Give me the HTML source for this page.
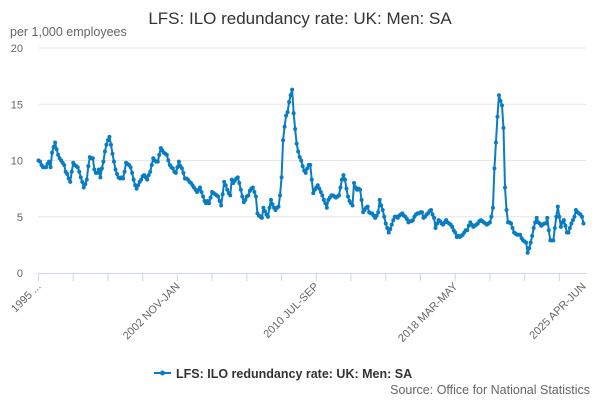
<!DOCTYPE html>
<html><head><meta charset="utf-8">
<style>
html,body{margin:0;padding:0;background:#fff;}
svg{display:block;font-family:"Liberation Sans",sans-serif;}
</style></head>
<body>
<svg id="chart" width="600" height="400" viewBox="0 0 600 400">
<text x="300" y="24" text-anchor="middle" font-size="17" fill="#333">LFS: ILO redundancy rate: UK: Men: SA</text>
<text x="10" y="36" font-size="12.5" fill="#666">per 1,000 employees</text>
<g id="grid"></g><g id="xaxis"></g><g id="series"></g>
<g>
<line x1="154" y1="373" x2="171" y2="373" stroke="#0a7cc1" stroke-width="2"/>
<circle cx="162.5" cy="373" r="2.5" fill="#0a7cc1"/>
<text x="176" y="378" font-size="12.5" font-weight="bold" fill="#333">LFS: ILO redundancy rate: UK: Men: SA</text>
</g>
<text x="590" y="394" text-anchor="end" font-size="12.5" fill="#666">Source: Office for National Statistics</text>
</svg>
<script>
const yTicks = [0, 5, 10, 15, 20];
const xLabelIdx = [0, 92, 184, 276, 361];
const xLabels = ["1995 ...", "2002 NOV-JAN", "2010 JUL-SEP", "2018 MAR-MAY", "2025 APR-JUN"];
const values = [
10.0,9.9,9.6,9.4,9.4,9.4,9.7,9.9,9.4,10.7,11.2,11.6,11.0,10.5,10.2,10.0,9.8,9.6,9.0,8.8,
8.4,8.1,9.0,9.8,9.6,9.5,9.4,9.0,8.5,8.1,7.6,7.9,8.3,9.5,10.3,10.2,10.2,9.2,8.9,8.9,
9.2,8.5,9.3,9.9,10.8,11.4,11.8,12.1,11.4,10.6,9.9,9.2,8.8,8.5,8.4,8.5,8.4,9.0,9.8,9.7,
9.6,9.4,8.9,8.3,7.8,7.5,7.8,8.1,8.3,8.6,8.7,8.5,8.3,8.7,9.0,9.6,10.2,10.0,9.9,9.9,
10.5,11.1,10.9,10.7,10.6,10.5,10.0,9.6,9.4,9.3,9.0,8.9,9.4,9.9,9.5,9.3,8.9,8.4,8.4,8.3,
8.1,8.0,7.8,7.6,7.4,7.2,7.4,7.6,7.2,6.8,6.4,6.2,6.4,6.2,6.7,7.2,7.1,7.0,6.9,6.8,
6.4,6.0,7.0,8.1,7.8,7.4,7.1,6.9,8.3,8.0,8.2,8.4,8.5,8.0,7.4,6.8,6.3,6.5,6.8,6.9,
7.3,7.5,7.6,7.2,6.8,5.3,5.1,5.0,4.9,5.8,5.5,5.2,5.0,5.8,6.5,6.1,5.8,5.6,5.8,5.9,
6.9,8.5,11.8,13.0,14.0,14.3,15.2,15.8,16.3,14.2,12.8,11.5,10.8,10.3,10.0,9.5,9.1,8.9,9.3,9.6,
9.6,8.3,7.1,7.4,7.6,7.8,7.5,7.2,6.9,6.5,6.2,5.8,6.5,6.7,6.9,6.9,6.8,6.7,6.8,6.9,
7.6,8.3,8.7,8.3,7.5,6.8,6.4,6.2,6.0,8.0,7.6,7.4,7.5,7.4,6.5,5.4,5.6,5.8,5.9,5.4,
5.3,5.3,5.1,4.9,5.1,5.4,6.5,6.0,5.6,5.0,4.4,4.0,3.6,3.9,4.3,4.7,5.0,5.0,4.9,5.1,
5.2,5.3,5.1,5.0,4.8,4.5,4.6,4.6,4.7,5.0,5.2,5.3,5.3,5.4,5.4,4.9,5.0,5.2,5.3,5.5,
5.6,5.2,4.9,4.0,4.4,4.7,4.6,4.4,4.3,4.5,4.7,4.5,4.4,4.3,4.1,3.8,3.6,3.2,3.3,3.2,
3.3,3.4,3.6,3.8,3.8,4.2,4.5,4.3,4.1,4.2,4.3,4.4,4.6,4.7,4.6,4.5,4.4,4.3,4.4,4.5,
5.0,5.8,9.3,11.6,13.9,15.8,15.3,14.9,12.9,7.6,5.6,4.5,4.5,4.4,4.0,3.6,3.5,3.4,3.4,3.4,
3.1,2.9,2.8,2.7,1.8,2.2,2.7,3.3,4.0,4.5,4.9,4.5,4.4,4.2,4.3,4.4,4.4,4.9,3.8,2.9,
2.9,2.9,4.0,5.0,5.9,5.0,4.1,4.5,4.7,4.2,3.6,3.6,4.0,4.4,4.7,5.0,5.6,5.4,5.3,5.2,
5.0,4.4
];
const NS="http://www.w3.org/2000/svg";
const X0=38.5, X1=583.5, Y0=273, Y1=48, YMAX=20;
const xs=i=>X0+(X1-X0)*i/(values.length-1);
const ys=v=>Y0-(Y0-Y1)*v/YMAX;
function mk(tag,attrs,parent){const e=document.createElementNS(NS,tag);for(const k in attrs)e.setAttribute(k,attrs[k]);parent.appendChild(e);return e;}
const grid=document.getElementById('grid');
yTicks.forEach(t=>{
  if(t>0){const l=mk('line',{x1:X0,x2:586,y1:ys(t),y2:ys(t),stroke:'#e6e6e6','stroke-width':1},grid);
  
  }
  const tx=mk('text',{x:23,y:ys(t)+4,'text-anchor':'end','font-size':11,fill:'#666'},grid);
  tx.textContent=t;
  
  
});
const xa=document.getElementById('xaxis');
const ax=mk('line',{x1:X0,x2:586,y1:Y0+0.5,y2:Y0+0.5,stroke:'#ccd6eb','stroke-width':1},xa);


for(let i=0;i<values.length;i+=23){
  const tk=mk('line',{x1:xs(i),x2:xs(i),y1:Y0,y2:Y0+8,stroke:'#ccd6eb','stroke-width':1},xa);
  
  
}
xLabelIdx.forEach((idx,k)=>{
  const x=xs(idx), y=Y0+14;
  const t=mk('text',{x:x+3,y:y,'text-anchor':'end','font-size':11,fill:'#666',transform:`rotate(-45 ${x+3} ${y})`},xa);
  t.textContent=xLabels[k];
  
  
});
const sg=document.getElementById('series');
const pts=values.map((v,i)=>xs(i).toFixed(2)+','+ys(v).toFixed(2)).join(' ');
const pl=mk('polyline',{points:pts,fill:'none',stroke:'#0a7cc1','stroke-width':2,'stroke-linejoin':'round'},sg);


values.forEach((v,i)=>{
  const c=mk('circle',{cx:xs(i),cy:ys(v),r:2,fill:'#0a7cc1'},sg);
  
  
});
</script>
</body></html>
